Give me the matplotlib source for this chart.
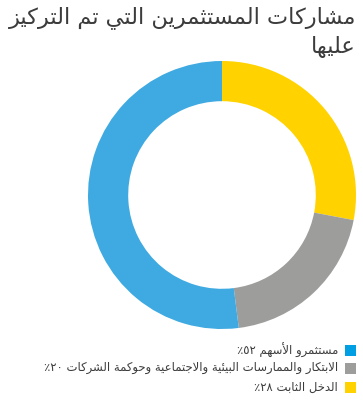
import matplotlib
matplotlib.use("Agg")
import matplotlib.pyplot as plt
from matplotlib.patches import Rectangle

# data
title_text = "مشاركات المستثمرين التي تم التركيز عليها"
labels = ["مستثمرو الأسهم ٥٢٪",
          "الابتكار والممارسات البيئية والاجتماعية وحوكمة الشركات ٢٠٪",
          "الدخل الثابت ٢٨٪"]
values = [52, 20, 28]
donut_colors = ["#3FAAE1", "#9D9D9C", "#FFD200"]
legend_colors = ["#009FE3", "#9D9D9C", "#FFD200"]

# --- minimal arabic shaping (no arabic_reshaper available) ---
# char -> (first presentation form, number of forms)
FORMS = {
    'ء': (0xFE80, 1), 'آ': (0xFE81, 2), 'أ': (0xFE83, 2), 'ؤ': (0xFE85, 2),
    'إ': (0xFE87, 2), 'ئ': (0xFE89, 4), 'ا': (0xFE8D, 2), 'ب': (0xFE8F, 4),
    'ة': (0xFE93, 2), 'ت': (0xFE95, 4), 'ث': (0xFE99, 4), 'ج': (0xFE9D, 4),
    'ح': (0xFEA1, 4), 'خ': (0xFEA5, 4), 'د': (0xFEA9, 2), 'ذ': (0xFEAB, 2),
    'ر': (0xFEAD, 2), 'ز': (0xFEAF, 2), 'س': (0xFEB1, 4), 'ش': (0xFEB5, 4),
    'ص': (0xFEB9, 4), 'ض': (0xFEBD, 4), 'ط': (0xFEC1, 4), 'ظ': (0xFEC5, 4),
    'ع': (0xFEC9, 4), 'غ': (0xFECD, 4), 'ف': (0xFED1, 4), 'ق': (0xFED5, 4),
    'ك': (0xFED9, 4), 'ل': (0xFEDD, 4), 'م': (0xFEE1, 4), 'ن': (0xFEE5, 4),
    'ه': (0xFEE9, 4), 'و': (0xFEED, 2), 'ى': (0xFEEF, 2), 'ي': (0xFEF1, 4),
}
LAM_ALEF = {'آ': 0xFEF5, 'أ': 0xFEF7, 'إ': 0xFEF9, 'ا': 0xFEFB}
DIGITS = "٠١٢٣٤٥٦٧٨٩0123456789"


def shape(text):
    # merge lam + alef into ligature tokens
    toks = []
    i = 0
    while i < len(text):
        c = text[i]
        if c == 'ل' and i + 1 < len(text) and text[i + 1] in LAM_ALEF:
            toks.append(('LA', text[i + 1]))
            i += 2
        else:
            toks.append(('C', c))
            i += 1

    def joins_next(t):
        return t[0] == 'C' and t[1] in FORMS and FORMS[t[1]][1] == 4

    def joins_prev(t):
        return t[0] == 'LA' or (t[0] == 'C' and t[1] in FORMS and FORMS[t[1]][1] > 1)

    out = []
    for k, t in enumerate(toks):
        prev_j = k > 0 and joins_next(toks[k - 1]) and joins_prev(t)
        if t[0] == 'LA':
            out.append(chr(LAM_ALEF[t[1]] + (1 if prev_j else 0)))
            continue
        c = t[1]
        if c not in FORMS:
            out.append(c)
            continue
        base, n = FORMS[c]
        next_j = (k + 1 < len(toks) and joins_next(t) and joins_prev(toks[k + 1]))
        if n == 1:
            out.append(chr(base))
        elif n == 2:
            out.append(chr(base + (1 if prev_j else 0)))
        else:
            if prev_j and next_j:
                out.append(chr(base + 3))
            elif prev_j:
                out.append(chr(base + 1))
            elif next_j:
                out.append(chr(base + 2))
            else:
                out.append(chr(base))
    s = "".join(out)[::-1]
    # put digit runs back in left-to-right order
    res, run = [], []
    for ch in s:
        if ch in DIGITS:
            run.append(ch)
        else:
            if run:
                res.append("".join(run[::-1]))
                run = []
            res.append(ch)
    if run:
        res.append("".join(run[::-1]))
    return "".join(res)


plt.rcParams['font.family'] = ['DejaVu Sans']

W, H = 363, 407
fig = plt.figure(figsize=(W / 100, H / 100), dpi=100)

# title, wrapped in two lines, right aligned
words = title_text.split(" ")
line1 = " ".join(words[:-1])
line2 = words[-1]
fig.text(356 / W, 1 - 18 / H, shape(line1), ha="right", va="center",
         fontsize=16.2, color="#3C3C3C")
fig.text(356 / W, 1 - 47 / H, shape(line2), ha="right", va="center",
         fontsize=16.2, color="#3C3C3C")

# donut
cx, cy, r = 222, 195, 134
ax = fig.add_axes([(cx - r) / W, 1 - (cy + r) / H, 2 * r / W, 2 * r / H])
order = [2, 1, 0]  # clockwise from top: fixed income, ESG, equity
ax.pie([values[i] for i in order], colors=[donut_colors[i] for i in order],
       startangle=90, counterclock=False, radius=1,
       wedgeprops=dict(width=0.3, edgecolor="none"))
ax.set_xlim(-1, 1)
ax.set_ylim(-1, 1)
ax.set_aspect("equal")
ax.axis("off")

# legend, right aligned with square on the right
rows_y = [350, 368, 387]
for lab, col, y in zip(labels, legend_colors, rows_y):
    fig.patches.append(Rectangle((345 / W, 1 - (y + 5.5) / H), 11 / W, 11 / H,
                                 transform=fig.transFigure, facecolor=col,
                                 edgecolor="none"))
    fig.text(338 / W, 1 - y / H, shape(lab), ha="right", va="center",
             fontsize=8.4, color="#3C3C3C")

fig.savefig("out.png", dpi=100)
